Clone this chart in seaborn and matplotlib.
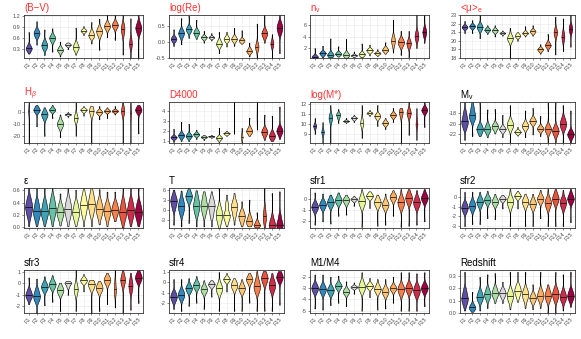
import numpy as np
import pandas as pd
import seaborn as sns
import matplotlib.pyplot as plt
from matplotlib.ticker import FixedLocator

plt.rcParams['font.family'] = ['Liberation Sans', 'DejaVu Sans']
plt.rcParams['mathtext.fontset'] = 'custom'
plt.rcParams['mathtext.rm'] = 'Liberation Sans'
plt.rcParams['mathtext.it'] = 'Liberation Sans:italic'
plt.rcParams['axes.unicode_minus'] = False

classes = ['F%d' % i for i in range(1, 16)]
colors = ['#5E4FA2', '#3288BD', '#3FA3B6', '#66C2A5', '#ABDDA4', '#D9D9D9', '#E6F598', '#FAFAA0',
          '#FEE08B', '#FDC675', '#FDAE61', '#F67F4B', '#E8553F', '#CF2C4C', '#9E0142']

# per class: (min, q1, median, q3, max)
bv = [(0.18, 0.27, 0.32, 0.40, 0.76), (0.42, 0.64, 0.73, 0.82, 1.05), (0.14, 0.32, 0.40, 0.50, 0.83),
      (0.23, 0.52, 0.60, 0.67, 0.86), (0.10, 0.22, 0.28, 0.35, 0.50), (0.30, 0.38, 0.42, 0.45, 0.48),
      (0.15, 0.30, 0.35, 0.45, 0.88), (0.68, 0.76, 0.80, 0.84, 0.92), (0.45, 0.62, 0.68, 0.78, 1.03),
      (0.28, 0.68, 0.78, 0.86, 1.12), (0.62, 0.85, 0.92, 1.00, 1.30), (0.55, 0.88, 0.95, 1.02, 1.30),
      (0.15, 0.70, 0.85, 0.95, 1.35), (0.00, 0.35, 0.45, 0.60, 1.13), (0.00, 0.80, 0.87, 0.95, 1.35)]
logre = [(-0.12, 0.03, 0.10, 0.17, 0.40), (-0.07, 0.18, 0.28, 0.38, 0.75), (0.13, 0.32, 0.40, 0.48, 0.83),
         (0.10, 0.22, 0.30, 0.38, 0.70), (-0.02, 0.10, 0.15, 0.20, 0.35), (0.05, 0.12, 0.15, 0.19, 0.28),
         (-0.35, -0.12, -0.05, 0.05, 0.32), (-0.14, 0.03, 0.10, 0.18, 0.32), (-0.12, 0.04, 0.10, 0.17, 0.45),
         (-0.05, 0.01, 0.05, 0.10, 0.37), (-0.45, -0.33, -0.28, -0.20, -0.02), (-0.55, -0.22, -0.15, -0.05, 0.58),
         (-0.02, 0.18, 0.27, 0.36, 0.95), (-0.55, -0.15, -0.05, 0.05, 0.25), (-0.35, 0.30, 0.45, 0.58, 0.95)]
nv = [(0.3, 0.4, 0.5, 0.8, 2.0), (0.4, 0.8, 1.1, 1.4, 2.4), (0.4, 0.6, 0.8, 1.1, 3.7),
      (0.5, 0.8, 1.0, 1.3, 2.3), (0.3, 0.6, 0.8, 1.1, 3.6), (0.4, 0.6, 0.7, 0.9, 1.4),
      (0.4, 0.7, 0.9, 1.2, 2.8), (0.7, 1.3, 1.6, 1.9, 2.6), (0.6, 0.9, 1.1, 1.3, 1.8),
      (1.0, 1.4, 1.7, 2.1, 3.0), (1.2, 2.6, 3.3, 4.0, 7.0), (0.8, 2.4, 3.0, 3.6, 5.0),
      (0.4, 2.2, 2.8, 3.4, 5.0), (2.0, 3.5, 4.1, 4.8, 8.5), (2.9, 4.2, 4.8, 5.5, 8.5)]
mue = [(20.9, 21.4, 21.6, 21.8, 22.3), (20.9, 21.5, 21.7, 21.9, 22.4), (20.3, 21.3, 21.6, 21.9, 23.2),
       (20.8, 21.1, 21.3, 21.5, 21.8), (20.5, 21.0, 21.2, 21.4, 21.8), (20.6, 20.8, 20.9, 21.0, 21.2),
       (18.0, 20.0, 20.3, 20.6, 21.5), (20.0, 20.4, 20.6, 20.8, 21.0), (20.5, 20.8, 20.9, 21.1, 21.7),
       (20.6, 20.9, 21.1, 21.3, 21.8), (18.5, 18.8, 19.0, 19.2, 19.6), (18.8, 19.3, 19.5, 19.8, 20.8),
       (18.4, 20.6, 21.0, 21.3, 22.8), (18.8, 20.0, 20.5, 21.0, 22.6), (19.3, 21.0, 21.4, 21.8, 23.2)]
hbeta = [(-27, -2, 1, 3, 8), (-12, 0, 2, 3.5, 6), (-20, -5, -2, 0, 4),
         (-5, 0.5, 2, 3.5, 6), (-21, -13, -10, -7, -2), (-4, -2.5, -2, -1.3, 0),
         (-20, -7, -5, -2, 8), (-3, 0.5, 2, 3, 5), (-27, -1, 1, 3, 5),
         (-6, -1.5, 0, 1.5, 5), (-5, 0, 1, 2, 4), (-2, 0, 1, 2, 5),
         (-27, -1, 1, 3, 8), (-27, -4, -1, 2, 8), (-18, 0.5, 2, 3, 6)]
d4000 = [(0.9, 1.25, 1.35, 1.5, 2.2), (1.0, 1.4, 1.55, 1.75, 2.9), (1.0, 1.35, 1.5, 1.7, 2.7),
         (1.2, 1.5, 1.65, 1.8, 2.1), (1.1, 1.3, 1.4, 1.5, 1.6), (1.3, 1.4, 1.45, 1.5, 1.6),
         (0.9, 1.2, 1.3, 1.45, 2.3), (1.5, 1.65, 1.75, 1.85, 2.0), (1.7, 2.5, 3.2, 4.0, 5.0),
         (0.8, 1.2, 1.4, 1.7, 2.3), (1.5, 1.8, 2.0, 2.3, 3.3), (2.1, 3.0, 3.5, 4.2, 5.0),
         (1.1, 1.6, 1.9, 2.2, 3.6), (1.0, 1.3, 1.5, 1.8, 3.5), (1.2, 1.8, 2.0, 2.3, 4.4)]
logm = [(9.0, 9.6, 9.8, 10.0, 10.6), (8.0, 8.9, 9.2, 9.5, 10.2), (8.0, 10.4, 10.6, 10.9, 11.9),
        (10.1, 10.6, 10.9, 11.1, 11.5), (10.1, 10.25, 10.3, 10.4, 10.6), (10.2, 10.45, 10.6, 10.7, 10.9),
        (8.6, 9.8, 10.1, 10.5, 11.9), (10.8, 11.0, 11.1, 11.2, 11.4), (9.8, 10.6, 10.8, 11.0, 11.9),
        (9.5, 9.9, 10.1, 10.3, 10.6), (10.2, 10.7, 10.9, 11.1, 11.6), (8.0, 10.9, 11.2, 11.4, 11.6),
        (8.9, 10.8, 11.1, 11.4, 12.3), (8.4, 9.7, 10.0, 10.5, 11.6), (9.7, 11.2, 11.4, 11.6, 12.3)]
mv = [(-23.0, -20.5, -19.5, -18.0, -15.5), (-22.3, -19.2, -18.4, -17.0, -15.5), (-22.3, -21.4, -21.0, -20.4, -15.9),
      (-22.5, -21.4, -21.0, -20.2, -17.3), (-21.8, -20.9, -20.5, -20.0, -17.2), (-22.5, -21.3, -21.0, -20.6, -18.3),
      (-23.5, -20.8, -20.2, -19.5, -16.5), (-22.2, -21.8, -21.5, -21.2, -20.6), (-22.5, -20.8, -20.4, -19.8, -17.5),
      (-22.0, -19.8, -19.5, -19.0, -17.0), (-22.3, -21.2, -20.9, -20.5, -18.5), (-23.5, -21.3, -21.0, -20.6, -16.0),
      (-23.5, -21.8, -21.3, -20.8, -15.9), (-23.5, -20.8, -20.0, -19.0, -16.5), (-23.5, -22.3, -22.0, -21.5, -17.5)]
eps = [(0.02, 0.20, 0.33, 0.46, 0.67), (0.02, 0.15, 0.26, 0.40, 0.67), (0.02, 0.15, 0.26, 0.40, 0.67),
       (0.02, 0.18, 0.31, 0.46, 0.75), (0.03, 0.15, 0.25, 0.36, 0.55), (0.02, 0.17, 0.30, 0.44, 0.69),
       (0.02, 0.14, 0.25, 0.38, 0.61), (0.02, 0.22, 0.36, 0.50, 0.69), (0.02, 0.24, 0.38, 0.52, 0.68),
       (0.05, 0.19, 0.30, 0.42, 0.62), (0.02, 0.16, 0.27, 0.38, 0.58), (0.10, 0.20, 0.29, 0.39, 0.58),
       (0.00, 0.14, 0.25, 0.40, 0.75), (0.02, 0.16, 0.28, 0.42, 0.68), (0.02, 0.14, 0.25, 0.38, 0.68)]
ttype = [(-4.5, 0.5, 2.5, 4.0, 6.0), (-5.0, -1.0, 1.0, 3.0, 5.7), (-4.0, 2.8, 4.0, 5.0, 6.5),
         (-5.0, -1.0, 1.2, 3.5, 5.8), (-5.0, -1.0, 1.2, 3.5, 5.5), (-5.0, -1.5, 1.0, 3.0, 5.5),
         (-5.5, -3.5, -1.5, 0.5, 7.0), (-5.0, -3.0, -1.5, 1.5, 4.5), (-4.5, -1.5, 0.7, 2.5, 5.0),
         (-5.0, -3.5, -2.0, -0.5, 2.5), (-5.0, -4.3, -3.5, -2.0, 3.0), (-5.3, -5.0, -4.5, -3.5, -0.8),
         (-5.5, -3.5, -2.0, 0.5, 7.0), (-5.5, -5.0, -4.5, -2.5, 5.0), (-5.5, -5.0, -4.5, -2.0, 5.5)]
sfr1 = [(-2.3, -1.0, -0.7, -0.4, 0.6), (-2.0, -0.8, -0.5, -0.2, 0.5), (-2.2, -0.6, -0.3, 0.0, 0.4),
        (-1.5, -0.4, -0.1, 0.2, 0.6), (-1.4, -0.4, -0.1, 0.1, 0.4), (-0.6, -0.15, 0.0, 0.1, 0.3),
        (-2.5, -0.6, -0.2, 0.2, 0.9), (-0.8, 0.1, 0.3, 0.5, 0.7), (-2.4, -0.6, -0.3, 0.0, 0.4),
        (-2.3, -0.8, -0.5, -0.2, 0.5), (-1.5, -0.1, 0.2, 0.4, 0.8), (-2.5, -0.7, -0.3, 0.1, 0.9),
        (-2.4, -0.3, 0.1, 0.4, 0.9), (-2.3, -0.7, -0.3, 0.1, 0.8), (-2.0, -0.2, 0.1, 0.4, 0.9)]
sfr2 = [(-3.0, -1.5, -1.1, -0.7, 0.5), (-2.8, -1.3, -0.9, -0.5, 0.5), (-2.8, -0.9, -0.5, -0.2, 0.5),
        (-2.2, -0.6, -0.3, 0.0, 0.6), (-2.3, -0.8, -0.5, -0.2, 0.3), (-1.2, -0.4, -0.2, 0.0, 0.2),
        (-3.0, -1.0, -0.5, -0.1, 0.8), (-1.2, -0.1, 0.1, 0.3, 0.6), (-3.0, -0.9, -0.5, -0.2, 0.3),
        (-3.0, -1.1, -0.7, -0.4, 0.3), (-2.2, -0.5, -0.2, 0.1, 0.7), (-3.0, -1.1, -0.6, -0.2, 0.8),
        (-3.0, -0.6, -0.2, 0.2, 0.8), (-3.0, -1.1, -0.6, -0.2, 0.7), (-2.6, -0.5, -0.2, 0.2, 0.8)]
sfr3 = [(-1.8, -1.3, -1.0, -0.6, 0.5), (-2.6, -1.5, -1.1, -0.6, 0.4), (-1.9, -0.6, -0.3, 0.0, 0.6),
        (-1.6, -0.4, -0.1, 0.2, 0.7), (-2.4, -0.9, -0.6, -0.3, 0.05), (-1.0, -0.3, 0.0, 0.1, 0.2),
        (-2.4, -0.9, -0.5, -0.1, 1.2), (-0.7, 0.05, 0.25, 0.45, 0.8), (-2.6, -0.4, -0.1, 0.1, 0.3),
        (-2.4, -0.7, -0.4, -0.1, 0.2), (-1.8, 0.0, 0.3, 0.5, 0.9), (-2.1, -1.0, -0.5, 0.2, 1.2),
        (-2.6, -0.1, 0.3, 0.6, 1.2), (-2.3, -0.7, -0.2, 0.3, 0.9), (-1.7, 0.2, 0.5, 0.8, 1.2)]
sfr4 = [(-2.6, -1.8, -1.4, -1.0, 0.3), (-2.8, -1.6, -1.2, -0.8, 0.3), (-2.3, -0.9, -0.6, -0.3, 0.4),
        (-2.0, -0.6, -0.3, 0.0, 0.6), (-2.6, -1.0, -0.7, -0.4, 0.2), (-1.4, -0.4, -0.2, 0.0, 0.2),
        (-2.8, -1.0, -0.6, -0.2, 1.0), (-0.9, 0.1, 0.3, 0.5, 0.9), (-2.8, -0.6, -0.3, 0.0, 0.4),
        (-2.8, -0.9, -0.6, -0.3, 0.3), (-2.0, 0.0, 0.3, 0.5, 0.9), (-2.8, -0.9, -0.4, 0.2, 1.1),
        (-2.8, 0.0, 0.4, 0.7, 1.1), (-2.8, -0.8, -0.3, 0.2, 0.9), (-2.2, 0.2, 0.5, 0.8, 1.1)]
m1m4 = [(-4.8, -3.3, -3.0, -2.7, -1.8), (-4.9, -3.4, -3.1, -2.8, -1.8), (-4.5, -3.5, -3.2, -2.9, -2.0),
        (-4.3, -3.0, -2.8, -2.6, -1.9), (-4.6, -3.5, -3.3, -3.1, -2.4), (-3.5, -3.0, -2.9, -2.8, -2.5),
        (-5.0, -3.2, -2.9, -2.5, -1.6), (-3.8, -3.0, -2.8, -2.6, -2.1), (-4.9, -3.3, -3.1, -2.8, -2.2),
        (-4.8, -3.6, -3.3, -3.0, -2.2), (-4.3, -3.2, -3.0, -2.8, -2.0), (-5.0, -3.5, -3.1, -2.8, -1.6),
        (-5.0, -3.3, -3.0, -2.7, -1.6), (-5.0, -3.6, -3.2, -2.8, -1.7), (-4.6, -3.3, -3.0, -2.7, -1.6)]
redshift = [(0.02, 0.08, 0.12, 0.18, 0.33), (0.01, 0.03, 0.045, 0.07, 0.17), (0.02, 0.10, 0.13, 0.17, 0.29),
            (0.04, 0.12, 0.15, 0.19, 0.31), (0.08, 0.13, 0.16, 0.20, 0.32), (0.08, 0.13, 0.16, 0.19, 0.25),
            (0.03, 0.10, 0.14, 0.18, 0.33), (0.09, 0.14, 0.18, 0.22, 0.33), (0.04, 0.11, 0.15, 0.19, 0.33),
            (0.03, 0.09, 0.12, 0.15, 0.23), (0.04, 0.11, 0.14, 0.18, 0.33), (0.00, 0.10, 0.14, 0.18, 0.23),
            (0.00, 0.11, 0.15, 0.19, 0.33), (0.02, 0.10, 0.13, 0.17, 0.31), (0.05, 0.11, 0.14, 0.18, 0.33)]

red = '#FF3030'
# title, title colour, data, y limits, y ticks, violin width, narrower violins
panels = [
    ('(B\u2212V)', red, bv, (0.06, 1.22), [0.3, 0.6, 0.9, 1.2], 0.75, {'F13': .6, 'F14': .45}),
    ('log(Re)', red, logre, (-0.5, 0.85), [-0.5, 0.0, 0.5], 0.75, {'F12': .6, 'F14': .5}),
    ('n$_{\\rm v}$', red, nv, (0.25, 7.8), [2, 4, 6], 0.8, {'F11': .6, 'F13': .7, 'F14': .6, 'F15': .6}),
    ('<\u03bc>$_{\\rm e}$', red, mue, (18, 23), [18, 19, 20, 21, 22, 23], 0.75, {'F13': .6, 'F14': .5, 'F15': .6}),
    ('H$_\\beta$', red, hbeta, (-26, 8.5), [-20, -10, 0], 0.8, {'F1': .15, 'F7': .6, 'F9': .7, 'F13': .5, 'F14': .15}),
    ('D4000', red, d4000, (0.8, 4.85), [1, 2, 3, 4], 0.8, {'F9': .06, 'F10': .3, 'F12': .06}),
    ('log(M*)', red, logm, (8.1, 12.2), [9, 10, 11, 12], 0.75, {'F1': .5, 'F2': .4, 'F3': .6, 'F4': .7, 'F7': .5,
                                                               'F12': .6, 'F13': .7, 'F14': .3}),
    ('M$_{\\rm v}$', 'black', mv, (-23.6, -15.9), [-22, -20, -18], 0.85, {}),
    ('\u03b5', 'black', eps, (-0.01, 0.64), [0.0, 0.2, 0.4, 0.6], 0.9, {}),
    ('T', 'black', ttype, (-5.5, 6.5), [-3, 0, 3, 6], 0.85, {'F13': .5}),
    ('sfr1', 'black', sfr1, (-2.6, 1.0), [-2, -1, 0], 0.85, {}),
    ('sfr2', 'black', sfr2, (-3.2, 0.9), [-3, -2, -1, 0], 0.85, {}),
    ('sfr3', 'black', sfr3, (-2.57, 1.15), [-2, -1, 0, 1], 0.85, {'F7': .6, 'F12': .3, 'F13': .7, 'F14': .6}),
    ('sfr4', 'black', sfr4, (-3.0, 1.2), [-2, -1, 0, 1], 0.85, {}),
    ('M1/M4', 'black', m1m4, (-5.2, -1.4), [-5, -4, -3, -2], 0.85, {}),
    ('Redshift', 'black', redshift, (0.0, 0.345), [0.0, 0.1, 0.2, 0.3], 0.85, {}),
]

W, H = 581, 339
lefts, rights = [24, 169, 310, 460], [143, 284, 429, 575]
tops, bottoms = [15, 102, 188, 270], [58, 143, 228, 313]

fig = plt.figure(figsize=(W / 100, H / 100), dpi=100)

for k, (title, tcol, stats, ylim, ticks, vw, narrow) in enumerate(panels):
    r, c = divmod(k, 4)
    ax = fig.add_axes([lefts[c] / W, 1 - bottoms[r] / H,
                       (rights[c] - lefts[c]) / W, (bottoms[r] - tops[r]) / H])
    for i, (name, q, col) in enumerate(zip(classes, stats, colors)):
        lo, q1, med, q3, hi = q
        obs = [lo] + [q1] * 4 + [med] * 7 + [q3] * 4 + [hi]
        df = pd.DataFrame({'cls': name, 'val': obs})
        sns.violinplot(data=df, x='cls', y='val', order=classes, color=col,
                       width=vw * narrow.get(name, 1), cut=0, inner=None,
                       density_norm='width', bw_adjust=0.85, linewidth=0.4,
                       linecolor='black', saturation=1, ax=ax)
        # median line across the violin
        v = ax.collections[-1].get_paths()[0].vertices
        right = v[v[:, 0] > i + 1e-9]
        right = right[np.argsort(right[:, 1])]
        half = np.interp(med, right[:, 1], right[:, 0]) - i
        ax.plot([i - half, i + half], [med, med], color='black', lw=0.5,
                solid_capstyle='butt')

    ax.set_xlim(-0.6, 14.6)
    ax.set_ylim(*ylim)
    ax.set_yticks(ticks)
    ax.set_yticklabels([str(t) for t in ticks])
    step = ticks[1] - ticks[0]
    ax.yaxis.set_minor_locator(FixedLocator(np.arange(ticks[0] - step / 2, ticks[-1] + step, step)))
    ax.set_xticks(range(15))
    ax.set_xticklabels(classes, rotation=45, ha='right', rotation_mode='anchor')
    ax.grid(which='major', color='#EBEBEB', lw=0.5)
    ax.grid(which='minor', axis='y', color='#F4F4F4', lw=0.3)
    ax.set_axisbelow(True)
    ax.set_facecolor('white')
    for s in ax.spines.values():
        s.set_color('#333333')
        s.set_linewidth(0.6)
    ax.tick_params(length=1.5, width=0.4, color='#333333', labelsize=4,
                   labelcolor='#4D4D4D', pad=1)
    ax.tick_params(which='minor', length=0)
    ax.set_xlabel('')
    ax.set_ylabel('')
    ax.set_title(title, loc='left', fontsize=7, color=tcol, pad=3)

fig.savefig('out.png', dpi=100)
